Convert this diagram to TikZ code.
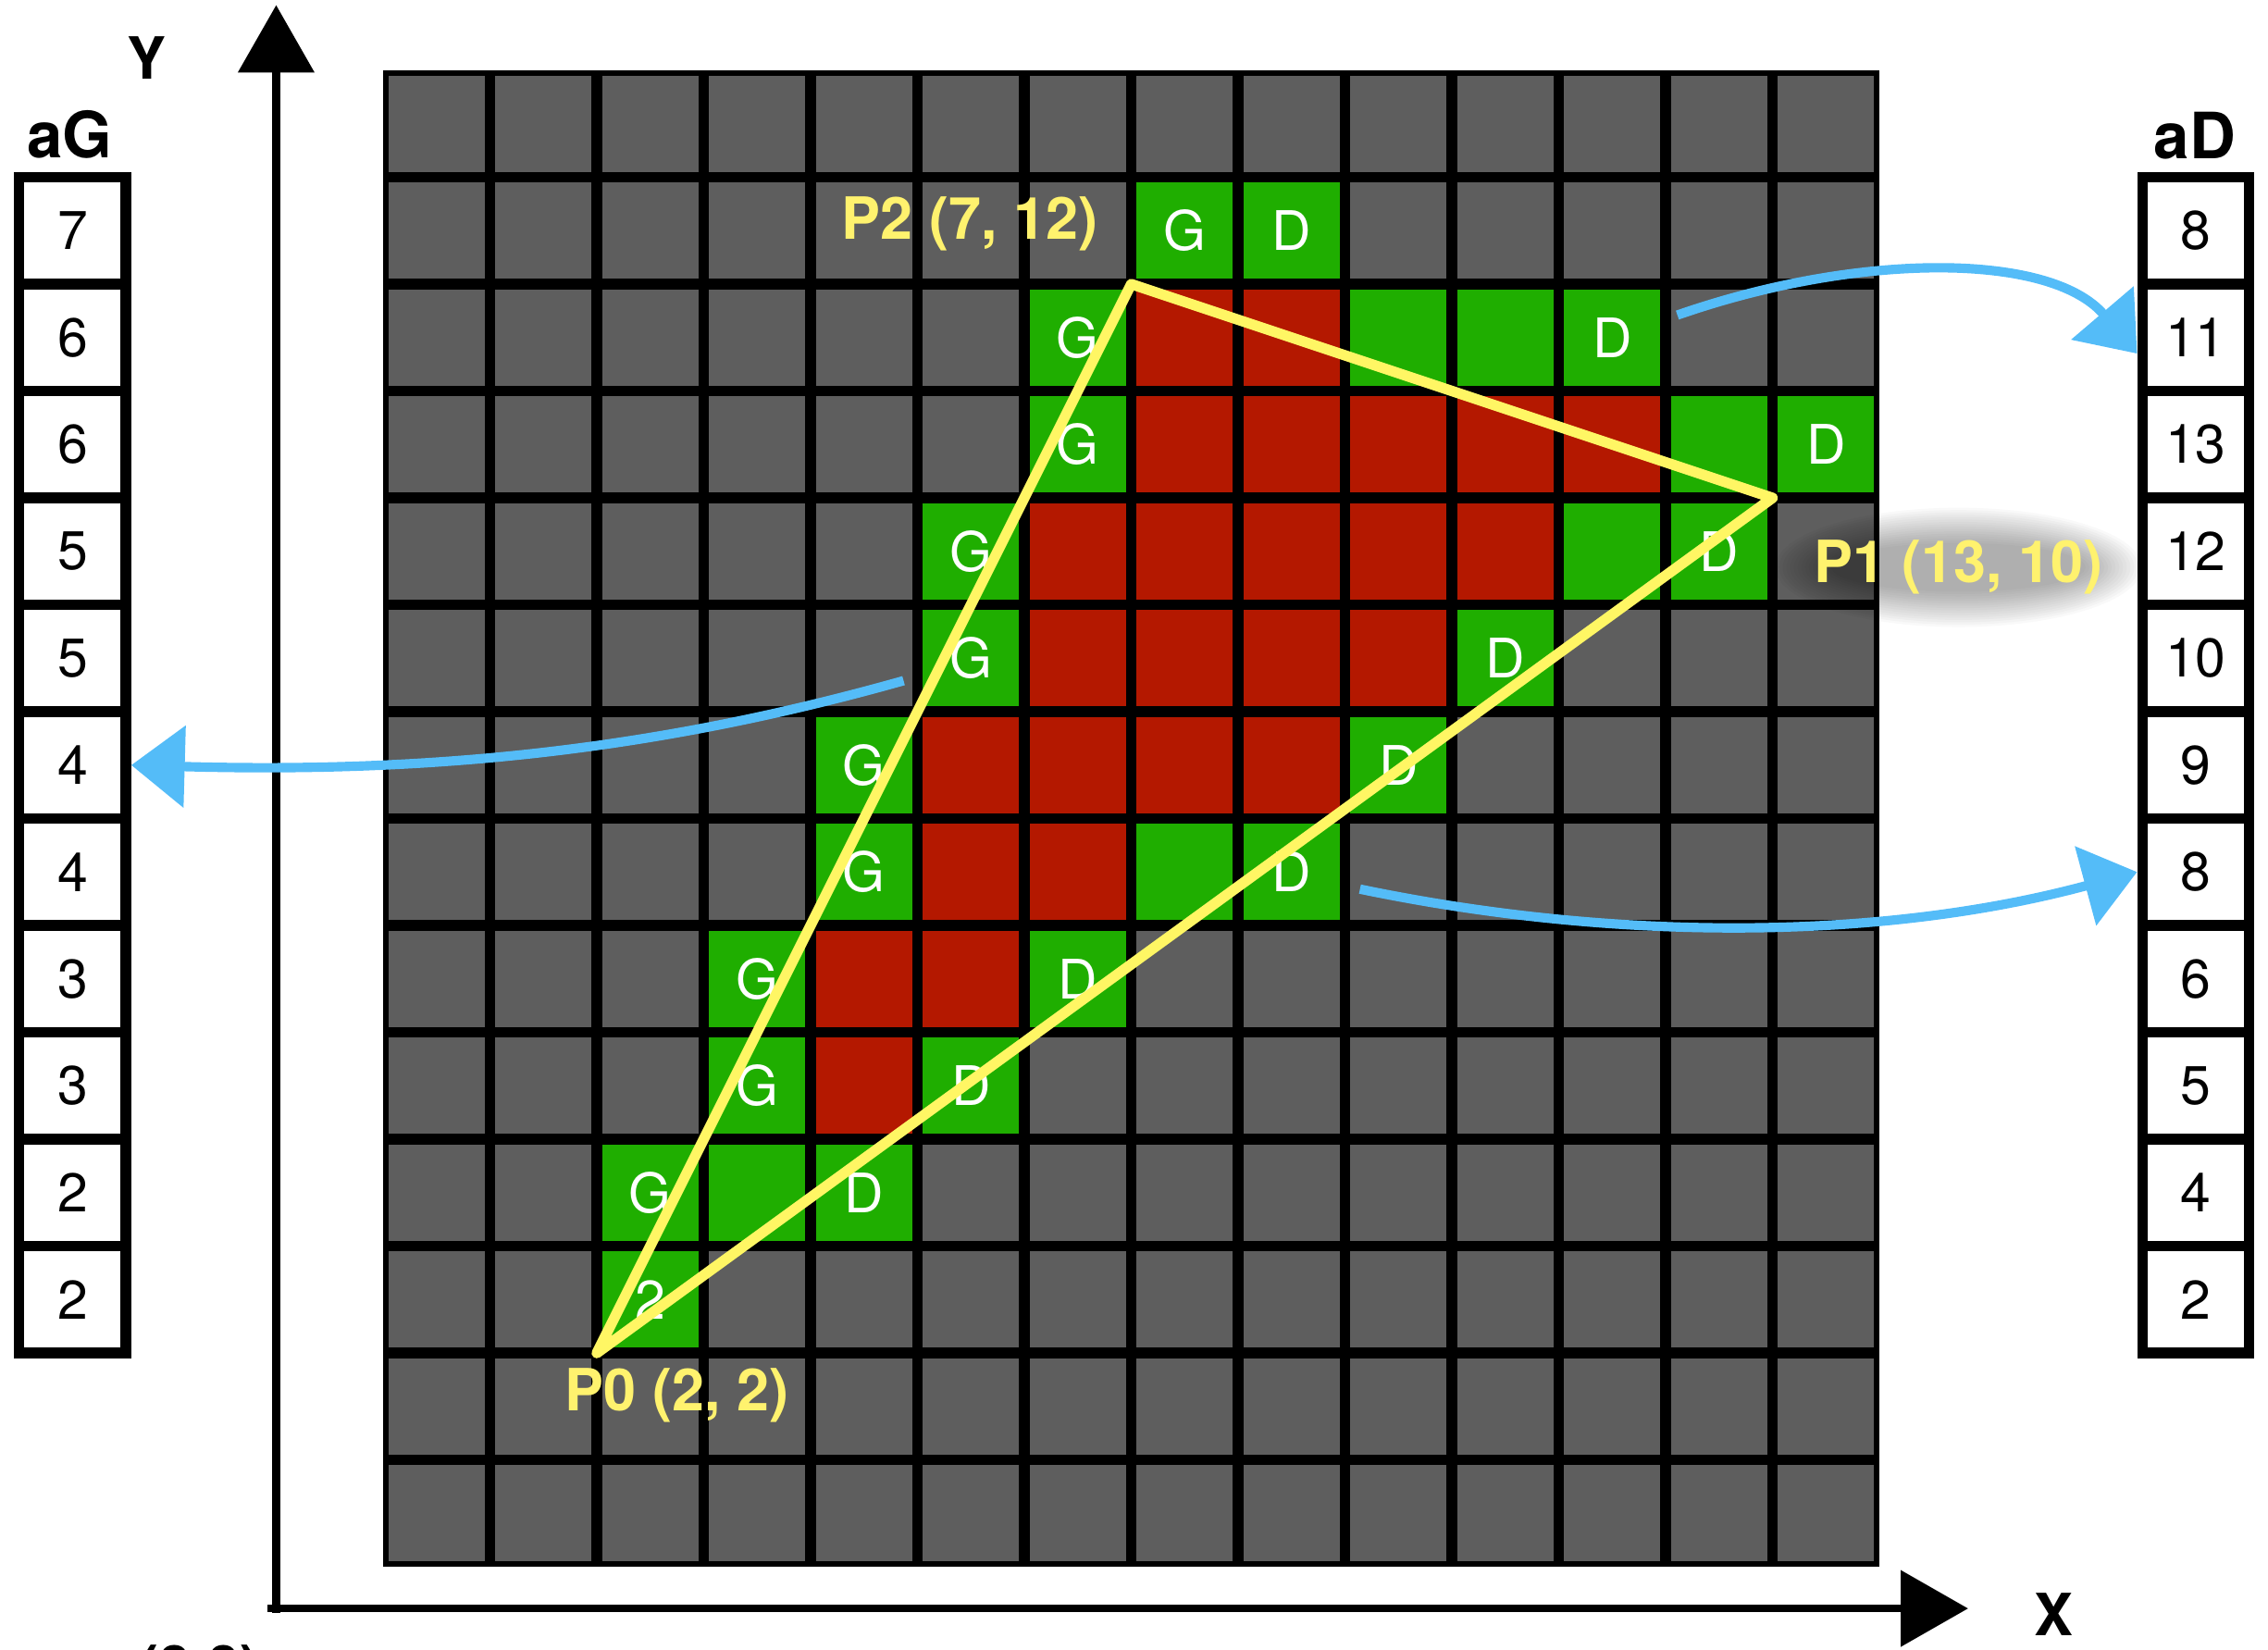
\documentclass[tikz,border=0pt]{standalone}
\usepackage{fontspec}
\setmainfont{TeX Gyre Heros}
\usepackage{tikz}
\usetikzlibrary{arrows.meta}
\usepackage{xcolor}
\definecolor{cellgray}{RGB}{94,94,94}
\definecolor{edgegreen}{RGB}{31,174,0}
\definecolor{fillred}{RGB}{180,24,0}
\definecolor{labelyellow}{RGB}{255,242,110}
\definecolor{lineyellow}{RGB}{255,246,100}
\definecolor{arrowblue}{RGB}{84,188,248}

\begin{document}
\begin{tikzpicture}[
  cell/.style={fill=cellgray},
  edgecell/.style={fill=edgegreen},
  fillcell/.style={fill=fillred},
  celltxt/.style={text=white, inner sep=0pt, font=\fontsize{14.5}{16}\selectfont},
  numbox/.style={draw, line width=2.8pt, fill=white, inner sep=0pt, minimum width=1cm, minimum height=1cm, font=\fontsize{14.5}{16}\selectfont},
  ptlabel/.style={text=labelyellow, inner sep=0pt, font=\bfseries\fontsize{15.5}{18}\selectfont},
  axislabel/.style={inner sep=0pt, font=\bfseries\fontsize{15.5}{18}\selectfont},
  listhead/.style={inner sep=0pt, font=\bfseries\fontsize{17}{19}\selectfont},
  tri/.style={draw=lineyellow, line width=2.8pt, line join=round, line cap=round},
  link/.style={draw=arrowblue, line width=2.5pt, -{Triangle[length=5mm, width=7.5mm]}},
  axis/.style={line width=2pt, -{Triangle[length=6.3mm, width=7mm]}}
]
  \useasboundingbox (-3.584,-0.771) rectangle (17.636,14.658);

  % raster
  \fill (0,0) rectangle (14,14);
  \foreach \x in {0,...,13}
    \foreach \y in {0,...,13}
      \fill[cell] (\x+.05,\y+.05) rectangle ++(.9,.9);

  % edge cells and the two lists
  \foreach \r/\g/\d in {12/7/8, 11/6/11, 10/6/13, 9/5/12, 8/5/10, 7/4/9, 6/4/8, 5/3/6, 4/3/5, 3/2/4, 2/2/2} {
    \node[numbox] (gbox\r) at (-2.905,\r+.5) {\g};
    \node[numbox] (dbox\r) at (16.96,\r+.5) {\d};
    \foreach \c in {\g,...,\d}
      \fill[edgecell] (\c+.05,\r+.05) rectangle ++(.9,.9);
  }

  % inside cells
  \foreach \r/\a/\b in {11/7/8, 10/7/11, 9/6/10, 8/6/9, 7/5/8, 6/5/6, 5/4/5, 4/4/4}
    \foreach \c in {\a,...,\b}
      \fill[fillcell] (\c+.05,\r+.05) rectangle ++(.9,.9);

  \foreach \r/\g/\d in {12/7/8, 11/6/11, 10/6/13, 9/5/12, 8/5/10, 7/4/9, 6/4/8, 5/3/6, 4/3/5, 3/2/4} {
    \node[celltxt] (g\r) at (\g+.5,\r+.5) {G};
    \node[celltxt] (d\r) at (\d+.5,\r+.5) {D};
  }
  \node[celltxt] (gd2) at (2.5,2.5) {2};

  \node[listhead] (aG) at (-2.93,13.40) {aG};
  \node[listhead] (aD) at (16.95,13.39) {aD};

  % axes
  \coordinate (ybot) at (-1,-0.43);
  \coordinate (ytop) at (-1,14.61);
  \coordinate (xleft) at (-1.08,-0.39);
  \coordinate (xright) at (14.83,-0.39);
  \draw[axis] (ybot) -- (ytop);
  \draw[axis] (xleft) -- (xright);
  \node[axislabel] (ylab) at (-2.215,14.12) {Y};
  \node[axislabel] (xlab) at (15.63,-0.45) {X};
  \node[axislabel, anchor=north] (orig) at (-1.72,-0.725) {(0,0)};

  % triangle
  \coordinate (p0) at (2,2);
  \coordinate (p1) at (13,10);
  \coordinate (p2) at (7,12);
  \draw[tri] (p0) -- (p1) -- (p2) -- cycle;

  \node[ptlabel] (p0lab) at (2.75,1.60) {P0 (2, 2)};
  \node[ptlabel] (p2lab) at (5.49,12.56) {P2 (7, 12)};
  \foreach \i in {1,...,16}
    \fill[black, opacity=0.022] (14.74,9.35) ellipse ({1.75-0.035*\i} and {0.58-0.022*\i});
  \node[ptlabel] (p1lab) at (14.74,9.35) {P1 (13, 10)};

  % scan lines to the lists
  \coordinate (gtail) at (4.87,8.29);
  \coordinate (dtop) at (12.11,11.71);
  \coordinate (dlow) at (9.14,6.34);
  \draw[link] (gtail) .. controls (2.6,7.65) and (0.5,7.42) .. (gbox7.east);
  \draw[link] (dtop) .. controls (13.8,12.3) and (15.6,12.3) .. ([yshift=-1.5mm]dbox11.west);
  \draw[link] (dlow) .. controls (11.5,5.85) and (14,5.85) .. (dbox6.west);
\end{tikzpicture}
\end{document}
